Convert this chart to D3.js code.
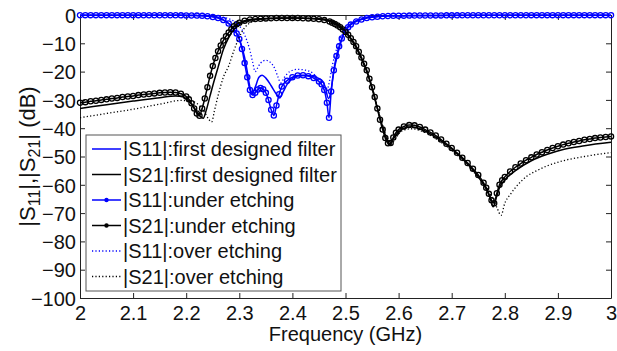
<!DOCTYPE html>
<html>
<head>
<meta charset="utf-8">
<script src="https://cdn.jsdelivr.net/npm/d3@7"></script>
<style>
  html, body { margin: 0; padding: 0; background: #fff; }
  svg { display: block; font-family: "Liberation Sans", Arial, sans-serif; }
</style>
</head>
<body>
<div id="chart"></div>
<script>
// frequency (GHz), magnitude (dB)
const s11First = [
  [2.00,-0.05],[2.10,-0.05],[2.20,-0.1],[2.24,-0.3],[2.26,-0.9],[2.27,-1.7],[2.28,-3],[2.29,-5],
  [2.30,-8.5],[2.31,-15],[2.315,-20],[2.32,-25.5],[2.324,-27.8],[2.33,-25.5],[2.337,-22],[2.343,-21.3],
  [2.35,-22.3],[2.36,-25],[2.37,-28],[2.376,-29.3],[2.383,-27],[2.39,-24.5],[2.40,-22.5],[2.41,-21.6],
  [2.425,-21.4],[2.44,-21.8],[2.455,-23],[2.462,-25.5],[2.468,-29.5],[2.472,-27.5],[2.478,-20],
  [2.485,-14],[2.49,-10.5],[2.495,-7.5],[2.50,-5.3],[2.51,-3.2],[2.52,-2],[2.535,-1.1],[2.55,-0.6],
  [2.58,-0.3],[2.65,-0.15],[2.80,-0.08],[3.00,-0.05]
];
const s21First = [
  [2.00,-33],[2.05,-31.7],[2.10,-30.4],[2.15,-29.2],[2.18,-28.6],[2.195,-29],[2.205,-30.5],[2.215,-32.8],
  [2.225,-35.5],[2.232,-36.5],[2.238,-33.5],[2.245,-28.5],[2.25,-25],[2.26,-18.5],[2.27,-12.2],[2.28,-8],
  [2.29,-5],[2.30,-3.3],[2.31,-2.3],[2.33,-1.6],[2.36,-1.2],[2.40,-1.1],[2.44,-1.2],[2.46,-1.5],
  [2.47,-2],[2.48,-2.8],[2.49,-4],[2.50,-6],[2.51,-8.5],[2.52,-11.5],[2.53,-15.5],[2.54,-20],
  [2.55,-26],[2.56,-33],[2.57,-39.5],[2.578,-44],[2.584,-45.8],[2.59,-43.8],[2.60,-41.3],[2.61,-40],
  [2.625,-39.5],[2.64,-40.2],[2.66,-42],[2.68,-44.5],[2.70,-47.3],[2.72,-50.8],[2.74,-54.8],[2.755,-58.5],
  [2.765,-61.5],[2.772,-64.5],[2.778,-67.8],[2.784,-64.5],[2.79,-61],[2.80,-58.3],[2.82,-55],[2.85,-51.5],
  [2.88,-49.2],[2.91,-47.5],[2.95,-46.2],[3.00,-45]
];
const s11Under = [
  [2.00,-0.05],[2.01,-0.05],[2.02,-0.05],[2.03,-0.05],[2.04,-0.05],[2.05,-0.05],[2.06,-0.05],[2.07,-0.05],
  [2.08,-0.05],[2.09,-0.06],[2.10,-0.06],[2.11,-0.06],[2.12,-0.07],[2.13,-0.07],[2.14,-0.08],[2.15,-0.08],
  [2.16,-0.09],[2.17,-0.1],[2.18,-0.11],[2.19,-0.12],[2.20,-0.14],[2.21,-0.17],[2.22,-0.22],[2.23,-0.3],
  [2.24,-0.45],[2.25,-0.7],[2.26,-1.1],[2.27,-1.8],[2.28,-3],[2.29,-5],[2.295,-6.5],[2.30,-8.5],
  [2.305,-12],[2.31,-17],[2.315,-22],[2.32,-26.5],[2.325,-28.3],[2.33,-27.5],[2.335,-26.3],[2.34,-25.8],
  [2.345,-26.2],[2.35,-27.5],[2.355,-30],[2.36,-33.5],[2.365,-35.5],[2.37,-32],[2.375,-28],[2.38,-25.3],
  [2.39,-23.2],[2.40,-22],[2.41,-21.4],[2.42,-21.3],[2.43,-21.6],[2.44,-22.3],[2.45,-23.5],[2.455,-24.5],
  [2.46,-26.5],[2.465,-31],[2.469,-36.3],[2.473,-27],[2.478,-19.5],[2.483,-14.5],[2.488,-11],[2.493,-8.3],
  [2.50,-5.6],[2.505,-4.3],[2.51,-3.4],[2.52,-2.3],[2.53,-1.6],[2.54,-1.1],[2.55,-0.8],[2.56,-0.6],
  [2.57,-0.45],[2.58,-0.35],[2.59,-0.3],[2.60,-0.25],[2.61,-0.23],[2.62,-0.21],[2.63,-0.19],[2.64,-0.18],
  [2.65,-0.17],[2.66,-0.16],[2.67,-0.15],[2.68,-0.14],[2.69,-0.13],[2.70,-0.12],[2.71,-0.12],[2.72,-0.11],
  [2.73,-0.11],[2.74,-0.1],[2.75,-0.1],[2.76,-0.09],[2.77,-0.09],[2.78,-0.08],[2.79,-0.08],[2.80,-0.08],
  [2.81,-0.07],[2.82,-0.07],[2.83,-0.07],[2.84,-0.07],[2.85,-0.06],[2.86,-0.06],[2.87,-0.06],[2.88,-0.06],
  [2.89,-0.06],[2.90,-0.05],[2.91,-0.05],[2.92,-0.05],[2.93,-0.05],[2.94,-0.05],[2.95,-0.05],[2.96,-0.05],
  [2.97,-0.05],[2.98,-0.05],[2.99,-0.05],[3.00,-0.05]
];
const s21Under = [
  [2.00,-31],[2.01,-30.8],[2.02,-30.5],[2.03,-30.3],[2.04,-30],[2.05,-29.8],[2.06,-29.5],[2.07,-29.3],
  [2.08,-29],[2.09,-28.8],[2.10,-28.6],[2.11,-28.3],[2.12,-28.1],[2.13,-27.9],[2.14,-27.7],[2.15,-27.5],
  [2.16,-27.4],[2.17,-27.3],[2.18,-27.4],[2.19,-27.8],[2.20,-28.8],[2.205,-29.8],[2.21,-31.2],[2.215,-33],
  [2.22,-34.8],[2.225,-35.6],[2.23,-33],[2.235,-29.5],[2.24,-25.5],[2.245,-21.5],[2.25,-18],[2.255,-15.2],
  [2.26,-12.8],[2.265,-10.8],[2.27,-9],[2.275,-7.5],[2.28,-6.2],[2.285,-5],[2.29,-4],[2.295,-3.3],
  [2.30,-2.7],[2.31,-2],[2.32,-1.6],[2.33,-1.4],[2.34,-1.3],[2.35,-1.2],[2.36,-1.15],[2.37,-1.1],
  [2.38,-1.1],[2.39,-1.1],[2.40,-1.1],[2.41,-1.1],[2.42,-1.15],[2.43,-1.2],[2.44,-1.3],[2.45,-1.5],
  [2.46,-1.8],[2.47,-2.3],[2.475,-2.7],[2.48,-3.2],[2.485,-3.7],[2.49,-4.3],[2.495,-5.1],[2.50,-6],
  [2.505,-7],[2.51,-8.2],[2.515,-9.5],[2.52,-11],[2.525,-13],[2.53,-15],[2.535,-17.2],[2.54,-19.5],
  [2.545,-22.5],[2.55,-25.5],[2.555,-29],[2.56,-33],[2.565,-37],[2.57,-40.5],[2.575,-43.5],[2.58,-45.3],
  [2.585,-45.2],[2.59,-43.3],[2.595,-41.6],[2.60,-40.5],[2.61,-39.4],[2.62,-38.9],[2.63,-39],[2.64,-39.6],
  [2.65,-40.5],[2.66,-41.5],[2.67,-42.6],[2.68,-44],[2.69,-45.5],[2.70,-47],[2.71,-48.7],[2.72,-50.4],
  [2.73,-52.3],[2.74,-54.3],[2.75,-56.5],[2.76,-59.3],[2.765,-61],[2.77,-63.2],[2.775,-65.5],[2.78,-66.5],
  [2.785,-63],[2.79,-60],[2.795,-58.4],[2.80,-57.2],[2.81,-55.3],[2.82,-53.8],[2.83,-52.5],[2.84,-51.3],
  [2.85,-50.3],[2.86,-49.3],[2.87,-48.5],[2.88,-47.7],[2.89,-47],[2.90,-46.4],[2.91,-45.8],[2.92,-45.3],
  [2.93,-44.9],[2.94,-44.5],[2.95,-44.1],[2.96,-43.8],[2.97,-43.5],[2.98,-43.3],[2.99,-43.1],[3.00,-42.9]
];
const s11Over = [
  [2.00,-0.05],[2.20,-0.1],[2.25,-0.3],[2.27,-0.8],[2.28,-1.3],[2.29,-2.2],[2.30,-3.8],[2.31,-7],
  [2.32,-12.5],[2.325,-16.5],[2.33,-20],[2.335,-18.5],[2.34,-17],[2.35,-16],[2.36,-17],[2.367,-19],
  [2.373,-22],[2.378,-24],[2.385,-22],[2.395,-20],[2.41,-19.2],[2.425,-19.5],[2.44,-20.8],[2.45,-23],
  [2.458,-26],[2.463,-28],[2.468,-25],[2.475,-18],[2.485,-11],[2.495,-6.5],[2.505,-4],[2.52,-2.2],
  [2.54,-1.1],[2.57,-0.5],[2.62,-0.25],[2.80,-0.1],[3.00,-0.05]
];
const s21Over = [
  [2.00,-36.3],[2.05,-34.8],[2.10,-33.3],[2.15,-31.5],[2.19,-30.2],[2.21,-30.5],[2.225,-32],[2.235,-34.5],
  [2.243,-37],[2.248,-37.8],[2.253,-34],[2.26,-28.5],[2.27,-22],[2.28,-18],[2.29,-12.5],[2.30,-7.8],
  [2.31,-4.5],[2.32,-2.8],[2.335,-1.8],[2.36,-1.3],[2.40,-1.1],[2.44,-1.2],[2.46,-1.5],[2.47,-1.9],
  [2.48,-2.6],[2.49,-3.8],[2.50,-5.6],[2.51,-8],[2.52,-11],[2.53,-15],[2.54,-19.8],[2.55,-25.5],
  [2.56,-32.5],[2.57,-39],[2.58,-43.8],[2.587,-45.6],[2.593,-44],[2.60,-42],[2.61,-40.6],[2.625,-40.2],
  [2.64,-40.8],[2.66,-42.5],[2.68,-45],[2.70,-47.8],[2.72,-51.2],[2.74,-55.2],[2.76,-59.5],[2.775,-64],
  [2.785,-68],[2.793,-70.8],[2.80,-66.5],[2.81,-63.5],[2.82,-61],[2.84,-57.2],[2.86,-55],[2.88,-53.3],
  [2.91,-51.5],[2.95,-50],[3.00,-48.6]
];

const xTicks = [2, 2.1, 2.2, 2.3, 2.4, 2.5, 2.6, 2.7, 2.8, 2.9, 3];
const yTicks = [0, -10, -20, -30, -40, -50, -60, -70, -80, -90, -100];
const legendLabels = [
  "|S11|:first designed filter",
  "|S21|:first designed filter",
  "|S11|:under etching",
  "|S21|:under etching",
  "|S11|:over etching",
  "|S21|:over etching"
];

const width = 617, height = 351;
const margin = { top: 15, right: 6, bottom: 53, left: 80 };
const innerWidth = width - margin.left - margin.right;
const innerHeight = height - margin.top - margin.bottom;
const blue = "#0000ff", black = "#000000";

const series = [
  { values: s11First, color: blue, dash: null, markers: false },
  { values: s21First, color: black, dash: null, markers: false },
  { values: s11Under, color: blue, dash: null, markers: true },
  { values: s21Under, color: black, dash: null, markers: true },
  { values: s11Over, color: blue, dash: "1.2 2.2", markers: false },
  { values: s21Over, color: black, dash: "1.2 2.2", markers: false }
].map((s, i) => ({ ...s, label: legendLabels[i] }));

const x = d3.scaleLinear().domain([2, 3]).range([0, innerWidth]);
const y = d3.scaleLinear().domain([-100, 0]).range([innerHeight, 0]);

const svg = d3.select("#chart").append("svg")
  .attr("width", width).attr("height", height)
  .attr("viewBox", `0 0 ${width} ${height}`);
const root = svg.append("g").attr("transform", `translate(${margin.left},${margin.top})`);

function styleAxis(g) {
  g.select(".domain").attr("stroke", "#222").attr("stroke-width", 1);
  g.selectAll(".tick line").attr("stroke", "#222");
  g.selectAll(".tick text").attr("fill", "#111").attr("font-size", 20)
    .attr("font-family", "'Liberation Sans', Arial, sans-serif");
}

// bottom / left with labels, top / right as plain box with inward ticks
root.append("g").attr("transform", `translate(0,${innerHeight})`)
  .call(d3.axisBottom(x).tickValues(xTicks).tickSize(-5).tickSizeOuter(0).tickPadding(8)
    .tickFormat(d3.format("~g")))
  .call(styleAxis);
root.append("g")
  .call(d3.axisLeft(y).tickValues(yTicks).tickSize(-5).tickSizeOuter(0).tickPadding(4)
    .tickFormat(d3.format("d")))
  .call(styleAxis)
  .call(g => g.selectAll(".tick text").attr("dy", "0.36em"));
root.append("g")
  .call(d3.axisTop(x).tickValues(xTicks).tickSize(-5).tickSizeOuter(0).tickFormat(""))
  .call(styleAxis);
root.append("g").attr("transform", `translate(${innerWidth},0)`)
  .call(d3.axisRight(y).tickValues(yTicks).tickSize(-5).tickSizeOuter(0).tickFormat(""))
  .call(styleAxis);

const line = d3.line()
  .x(d => x(d[0]))
  .y(d => y(d[1]))
  .curve(d3.curveMonotoneX);

series.forEach(s => {
  root.append("path")
    .datum(s.values)
    .attr("fill", "none")
    .attr("stroke", s.color)
    .attr("stroke-width", s.dash ? 1.3 : 1.5)
    .attr("stroke-dasharray", s.dash)
    .attr("d", line);
  if (s.markers) {
    root.append("g").selectAll("circle")
      .data(s.values)
      .join("circle")
      .attr("cx", d => x(d[0]))
      .attr("cy", d => y(d[1]))
      .attr("r", 2.6)
      .attr("fill", "none")
      .attr("stroke", s.color)
      .attr("stroke-width", 1.3);
  }
});

// legend
const legend = svg.append("g").attr("transform", "translate(86,135)");
legend.append("rect")
  .attr("width", 255).attr("height", 156)
  .attr("fill", "#fff").attr("stroke", "#555").attr("stroke-width", 1);
const rows = legend.selectAll("g.row").data(series).join("g")
  .attr("class", "row")
  .attr("transform", (d, i) => `translate(0,${14 + i * 25.5})`);
rows.append("line")
  .attr("x1", 6).attr("x2", 35)
  .attr("stroke", d => d.color)
  .attr("stroke-width", d => d.dash ? 1.3 : 1.5)
  .attr("stroke-dasharray", d => d.dash);
rows.filter(d => d.markers).append("circle")
  .attr("cx", 20.5).attr("r", 2.2).attr("fill", d => d.color);
rows.append("text")
  .attr("x", 37).attr("dy", "0.36em")
  .attr("font-size", 20).attr("fill", "#111")
  .text(d => d.label);

// axis titles
svg.append("text")
  .attr("x", margin.left + innerWidth / 2).attr("y", 341)
  .attr("text-anchor", "middle").attr("font-size", 20).attr("fill", "#111")
  .text("Frequency (GHz)");

const yTitle = svg.append("text")
  .attr("transform", `translate(35,${margin.top + innerHeight / 2}) rotate(-90)`)
  .attr("text-anchor", "middle").attr("font-size", 22).attr("fill", "#111");
yTitle.append("tspan").text("|S");
yTitle.append("tspan").attr("font-size", 16).attr("dy", 5).text("11");
yTitle.append("tspan").attr("dy", -5).text("|,|S");
yTitle.append("tspan").attr("font-size", 16).attr("dy", 5).text("21");
yTitle.append("tspan").attr("dy", -5).text("| (dB)");
</script>
</body>
</html>
